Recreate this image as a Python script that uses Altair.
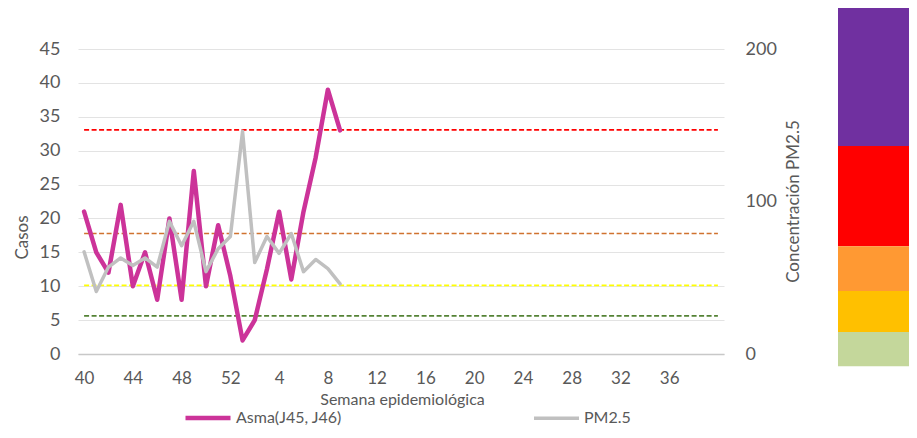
import altair as alt
import pandas as pd

# --- data ---
semanas = [40, 41, 42, 43, 44, 45, 46, 47, 48, 49, 50, 51, 52, 1, 2, 3, 4, 5, 6, 7, 8, 9]
asma = [21, 15, 12, 22, 10, 15, 8, 20, 8, 27, 10, 19, 11.5, 2, 5, 12.5, 21, 11, 21, 29, 39, 33]
pm25 = [67, 41, 57, 63, 58, 63, 57, 87, 71, 87, 54, 69, 77, 146, 60, 77, 66, 79, 54, 62, 56, 46]

# 53 epidemiological weeks on the category axis (40..52, 1..40)
semanas_eje = list(range(40, 53)) + list(range(1, 41))
etiquetas_cada = 4

umbral_nombres = ["Buena", "Aceptable", "Mala", "Muy mala"]
umbral_valores = [25, 45, 79, 147]
umbral_colores = ["#548235", "#FFFF00", "#D0722F", "#FF0000"]

banda_colores = ["#7030A0", "#FF0000", "#FF9933", "#FFC000", "#C4D79B"]
banda_arriba = [51.3, 30.7, 15.9, 9.3, 3.25]
banda_abajo = [30.7, 15.9, 9.3, 3.25, -1.8]

serie_nombres = ["Asma(J45, J46)", "PM2.5"]
serie_colores = ["#CC3399", "#C0C0C0"]
serie_grosor = [4.5, 3.5]

FONT = "Lato"
TXT = "#595959"

idx = list(range(len(semanas)))
df_asma = pd.DataFrame({"idx": idx, "semana": semanas, "casos": asma, "serie": serie_nombres[0]})
df_pm = pd.DataFrame({"idx": idx, "semana": semanas, "pm": pm25, "serie": serie_nombres[1]})

rows = []
for n, v in zip(umbral_nombres, umbral_valores):
    for i in range(len(semanas_eje)):
        rows.append({"idx": i, "pm": v, "nivel": n})
df_umbral = pd.DataFrame(rows)

df_bandas = pd.DataFrame({"color": banda_colores, "arriba": banda_arriba, "abajo": banda_abajo})

n_cat = len(semanas_eje)
label_expr = "datum.value <= 12 ? datum.value + 40 : datum.value - 12"

x_enc = alt.X(
    "idx:Q",
    scale=alt.Scale(domain=[-0.5, n_cat - 0.5], nice=False, zero=False),
    axis=alt.Axis(
        values=list(range(0, 49, etiquetas_cada)),
        labelExpr=label_expr,
        title="Semana epidemiológica",
        grid=False,
        ticks=False,
        domain=True,
        domainColor="#C8C8C8",
        domainWidth=1.5,
        labelPadding=24,
        labelBaseline="middle",
        labelFontSize=17,
        titleFontSize=16,
        titleX=324,
        titleY=45,
        titleBaseline="middle",
        titleAlign="center",
    ),
)

color_enc = alt.Color(
    "serie:N",
    scale=alt.Scale(domain=serie_nombres, range=serie_colores),
    legend=alt.Legend(
        title=None,
        orient="none",
        legendX=105,
        legendY=344,
        direction="horizontal",
        symbolType="stroke",
        symbolSize=2025,
        columnPadding=185,
        labelOffset=3,
        labelFont=FONT,
        labelFontSize=16,
        labelColor=TXT,
    ),
)
sw_enc = alt.StrokeWidth(
    "serie:N",
    scale=alt.Scale(domain=serie_nombres, range=serie_grosor),
)

umbrales = alt.Chart(df_umbral).mark_line(strokeDash=[5, 2.5], strokeWidth=1.6).encode(
    x=x_enc,
    y=alt.Y("pm:Q", scale=alt.Scale(domain=[0, 200], nice=False), axis=None),
    stroke=alt.Stroke("nivel:N", scale=alt.Scale(domain=umbral_nombres, range=umbral_colores), legend=None),
)

linea_asma = alt.Chart(df_asma).mark_line(strokeJoin="round", strokeCap="round").encode(
    x=x_enc,
    y=alt.Y(
        "casos:Q",
        scale=alt.Scale(domain=[0, 45], nice=False),
        axis=alt.Axis(
            values=list(range(0, 46, 5)),
            title="Casos",
            orient="left",
            grid=True,
            gridColor="#E3E3E3",
            gridWidth=1.2,
            domain=False,
            ticks=False,
            labelPadding=18,
            titleAngle=270,
            titleX=-56,
            titleY=188,
            titleAlign="center",
            titleBaseline="middle",
        ),
    ),
    color=color_enc,
    strokeWidth=sw_enc,
)

linea_pm = alt.Chart(df_pm).mark_line(strokeJoin="round", strokeCap="round").encode(
    x=x_enc,
    y=alt.Y(
        "pm:Q",
        scale=alt.Scale(domain=[0, 200], nice=False),
        axis=alt.Axis(
            values=[0, 100, 200],
            title="Concentración PM2.5",
            orient="right",
            grid=False,
            domain=False,
            ticks=False,
            labelPadding=21,
            titleAngle=270,
            titleX=69,
            titleY=152,
            titleAlign="center",
            titleBaseline="middle",
        ),
    ),
    color=color_enc,
    strokeWidth=sw_enc,
)

bandas = alt.Chart(df_bandas).mark_rect().encode(
    x=alt.value(760),
    x2=alt.value(860),
    y=alt.Y("arriba:Q", scale=alt.Scale(domain=[0, 45], nice=False), axis=None),
    y2="abajo:Q",
    fill=alt.Fill("color:N", scale=None),
)

chart = (
    alt.layer(umbrales, linea_asma, linea_pm, bandas)
    .resolve_scale(y="independent")
    .properties(
        width=646,
        height=305,
        autosize=alt.AutoSizeParams(type="none"),
        padding={"left": 70, "top": 41, "right": 185, "bottom": 72},
        background="white",
    )
    .configure_view(stroke=None)
    .configure_axis(
        labelFont=FONT,
        labelFontSize=18,
        labelColor=TXT,
        titleFont=FONT,
        titleFontSize=17,
        titleColor=TXT,
        titleFontWeight="normal",
    )
)

chart.save("out.html", embed_options={"renderer": "svg", "actions": False})
